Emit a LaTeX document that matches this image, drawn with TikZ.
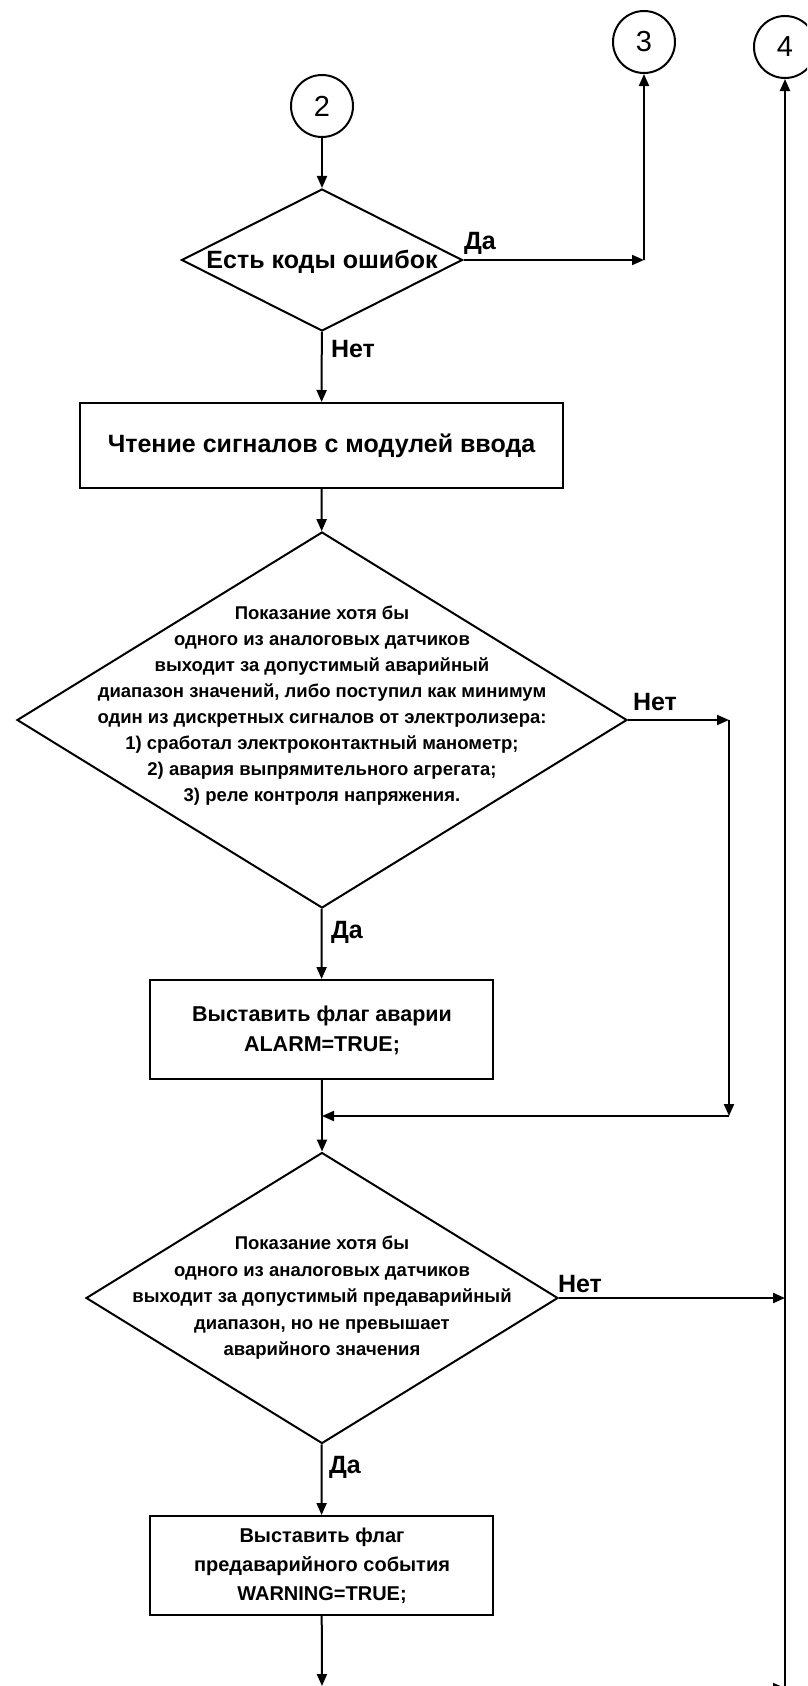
\documentclass[tikz,border=0pt]{standalone}
\usepackage{fontspec}
\usepackage{tikz}
\usetikzlibrary{shapes.geometric,arrows.meta}
\setmainfont{Liberation Sans}
\definecolor{inkcol}{HTML}{000000}

\begin{document}
\begin{tikzpicture}[x=1pt, y=-1pt, line width=2pt, draw=inkcol, text=inkcol,
    arr/.style={-{Triangle[length=12pt,width=10pt]}},
    conn/.style={circle, draw, minimum size=62pt, inner sep=0pt, font=\fontsize{29}{30}\selectfont},
    decide/.style={diamond, draw, inner sep=0pt},
    act/.style={rectangle, draw, inner sep=0pt},
    btext/.style={align=center, inner sep=0pt, font=\bfseries\fontsize{#1}{#1}\selectfont},
    lbl/.style={inner sep=0pt, anchor=base west, font=\bfseries\fontsize{25}{28}\selectfont}]
    \useasboundingbox (0,0) rectangle (807,1686);
    \fill[white] (0,0) rectangle (807,1686);
    \clip (0,0) rectangle (807,1686);
    % connectors
    \node[conn] (c2) at (322,106) {2};
    \node[conn] (c3) at (644,42) {3};
    \node[conn] (c4) at (785,47) {4};
    % error check
    \node[decide, minimum width=281pt, minimum height=142pt] (d1) at (322,260) {};
    \node[btext=25] (d1txt) at (322,262) {Есть коды ошибок};
    \node[lbl] (d1yes) at (463,249) {Да};
    \node[lbl] (d1no) at (330,357) {Нет};
    % read inputs
    \node[act, minimum width=483pt, minimum height=85pt] (b1) at (321.5,445.5)
      {\bfseries\fontsize{25}{30}\selectfont Чтение сигналов с модулей ввода};
    % alarm check
    \node[decide, minimum width=610pt, minimum height=376pt] (d2) at (322,720) {};
    \node[btext=18.5, font=\bfseries\fontsize{18.5}{26}\selectfont] (d2txt) at (322,706)
      {Показание хотя бы\\одного из аналоговых датчиков\\выходит за допустимый аварийный\\диапазон значений, либо поступил как минимум\\один из дискретных сигналов от электролизера:\\1) сработал электроконтактный манометр;\\2) авария выпрямительного агрегата;\\3) реле контроля напряжения.};
    \node[lbl] (d2no) at (632,710) {Нет};
    \node[lbl] (d2yes) at (330,938) {Да};
    \node[act, minimum width=343pt, minimum height=99pt] (b2) at (321.5,1029.5) {};
    \node[btext=21.5, font=\bfseries\fontsize{21.5}{30}\selectfont] (b2txt) at (322,1030)
      {Выставить флаг аварии\\ALARM=TRUE;};
    % warning check
    \node[decide, minimum width=472pt, minimum height=291pt] (d3) at (322,1298) {};
    \node[btext=18.5, font=\bfseries\fontsize{18.5}{26.5}\selectfont] (d3txt) at (322,1298)
      {Показание хотя бы\\одного из аналоговых датчиков\\выходит за допустимый предаварийный\\диапазон, но не превышает\\аварийного значения};
    \node[lbl] (d3no) at (557,1292) {Нет};
    \node[lbl] (d3yes) at (328,1473) {Да};
    \node[act, minimum width=343pt, minimum height=99pt] (b3) at (321.5,1565.5) {};
    \node[btext=20, font=\bfseries\fontsize{20}{29}\selectfont] (b3txt) at (322,1566)
      {Выставить флаг\\предаварийного события\\WARNING=TRUE;};
    % joints
    \coordinate (j3) at (644,260);
    \coordinate (j2a) at (729,720);
    \coordinate (j2b) at (729,1116);
    \coordinate (m2) at (322,1116);
    \coordinate (j4) at (785,1298);
    \coordinate (j4b) at (785,1690);
    \coordinate (j5) at (740,1688);
    \coordinate (out) at (322,1686);
    % lines
    \draw[arr] (c2) -- (d1);
    \draw[arr] (d1.east) -- (j3);
    \draw[arr] (j3) -- (c3);
    \draw[arr] (d1) -- (b1);
    \draw[arr] (b1) -- (d2);
    \draw[arr] (d2.east) -- (j2a);
    \draw[arr] (j2a) -- (j2b);
    \draw[arr] (j2b) -- (m2);
    \draw[arr] (d2) -- (b2);
    \draw (b2) -- (m2);
    \draw[arr] (m2) -- (d3);
    \draw[arr] (d3.east) -- (j4);
    \draw[arr] (j4b) -- (c4);
    \draw[arr] (j5) -- (j5 -| j4b);
    \draw[arr] (d3) -- (b3);
    \draw[arr] (b3) -- (out);
\end{tikzpicture}
\end{document}
